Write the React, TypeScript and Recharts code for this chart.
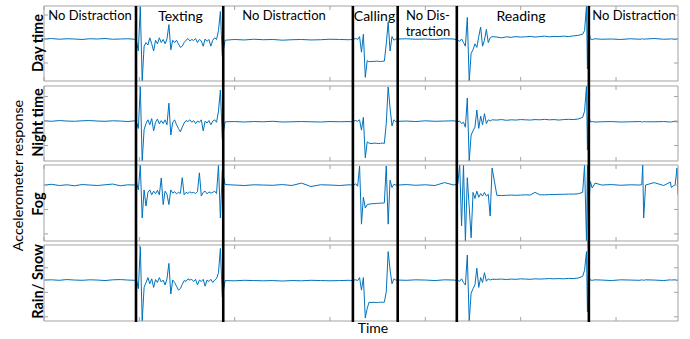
import { Line, LineChart, ReferenceLine, XAxis, YAxis } from "recharts";

// time grid shared by the four recordings (one line per segment)
const time = [
  0, 8, 16, 24, 32, 40, 48, 56, 64, 72, 80, 88, 95,
  97, 99, 101, 103, 105, 107, 109, 111, 113, 115, 117, 119, 121, 123, 125, 127, 129, 131, 133, 135,
  137, 139, 141, 143, 145, 147, 149, 151, 153, 155, 157, 159, 161, 163, 165, 167, 169, 171, 173, 175,
  177, 179, 181, 183, 185, 187,
  190, 200, 210, 220, 230, 240, 250, 260, 270, 280, 290, 300, 310, 320, 323,
  325, 327, 329, 331, 333, 335, 337, 339, 341, 343, 345, 347, 349, 351, 353, 355, 357, 359, 361, 363,
  365, 367, 369,
  372, 380, 390, 400, 410, 420, 430,
  434, 436, 438, 440, 442, 444, 446, 448, 450, 452, 454, 456, 458, 460, 462, 464, 466, 468, 470,
  475, 480, 485, 490, 495, 500, 505, 510, 515, 520, 525, 530, 535, 540, 545, 550, 555, 560, 565,
  567, 569, 570, 571,
  573, 575, 578, 585, 595, 605, 615, 625, 627, 628, 629, 631, 640, 650, 657, 658, 662, 664, 665,
];

const dayTime = [
  0, 0.02, -0.01, 0.01, 0, -0.02, 0.01, 0, 0.02, -0.01, 0, 0.01, -0.01,
  -0.1, -0.5, 1.35, -1.75, -0.3, -0.15, -0.25, 0.05, -0.2, -0.5, -0.05, -0.2, 0.05, -0.15, -0.02, -0.2, 0, 0.6, -0.45, -0.05,
  -0.15, -0.05, -0.2, -0.35, -0.3, -0.15, -0.05, 0.02, -0.08, -0.02, -0.06, 0.02, -0.15, -0.02, -0.08, -0.3, 0, -0.1, -0.02, -0.3,
  -0.05, 0.05, -0.02, 0.35, 1.15, -0.7,
  -0.05, -0.02, -0.04, -0.01, -0.03, -0.02, -0.05, -0.03, -0.02, -0.04, -0.03, -0.01, -0.02, -0.03, -0.02,
  0, 0.02, -0.02, 0.1, -0.55, 0.2, -1.6, -0.9, -0.95, -0.93, -0.94, -0.93, -0.92, -0.93, -0.94, -0.93, -0.92, -0.2, 0.7, -0.5,
  0.1, -0.05, 0,
  0, 0.01, -0.01, 0, -0.02, 0.01, 0,
  -0.05, -0.1, 0, -0.15, -0.3, 0.9, -1.75, -0.6, -0.45, -0.2, -0.35, 0.1, 0.5, -0.3, -0.05, 0.4, -0.15, 0.05, 0.1,
  0.08, 0.05, 0.09, 0.07, 0.1, 0.08, 0.09, 0.11, 0.08, 0.1, 0.12, 0.09, 0.11, 0.1, 0.12, 0.1, 0.13, 0.15, 0.2,
  0.35, 1.37, -1.25, 0.5,
  0, -0.02, 0.01, -0.01, 0, -0.02, 0.01, -0.01, 0, 0.01, -0.01, 0, 0.02, -0.01, 0, 0.01, -0.02, 0, 0.01,
];

const nightTime = [
  0.01, -0.01, 0.02, 0, -0.01, 0.01, 0.02, 0, -0.01, 0.01, 0, -0.02, 0.01,
  -0.05, -0.3, 1.4, -1.63, -0.35, -0.1, 0.05, -0.15, 0.1, -0.4, -0.05, 0.08, -0.12, 0.02, -0.1, 0.05, -0.15, 0.73, -0.57, -0.05,
  0.05, -0.15, -0.3, -0.44, -0.25, -0.08, 0.02, -0.02, 0.05, -0.05, 0.02, -0.1, 0, -0.05, 0.05, -0.4, 0, -0.08, 0.02, -0.15,
  0, 0.05, -0.05, 0.4, 1.27, -0.7,
  -0.03, -0.02, -0.04, -0.02, -0.03, -0.01, -0.04, -0.03, -0.02, -0.03, -0.04, -0.02, -0.03, -0.02, -0.03,
  0, 0.02, -0.01, 0.05, -0.37, 0.15, -1.5, -0.85, -0.9, -0.92, -0.91, -0.9, -0.91, -0.92, -0.91, -0.9, -0.91, -0.1, 1.39, 0.53,
  -0.2, 0.05, -0.02,
  -0.01, 0, -0.02, 0.01, -0.01, 0, 0.01,
  -0.03, 0, -0.1, -0.05, -0.25, 0.94, -1.63, -0.57, -0.4, -0.25, 0.45, -0.3, 0.2, -0.15, 0.3, -0.1, 0.05, 0, 0.05,
  0.04, 0.06, 0.03, 0.05, 0.04, 0.06, 0.05, 0.04, 0.06, 0.05, 0.07, 0.05, 0.06, 0.04, 0.06, 0.07, 0.06, 0.08, 0.15,
  0.4, 1.43, -1.18, 0.3,
  -0.03, -0.02, -0.04, -0.03, -0.02, -0.04, -0.03, -0.02, -0.03, -0.04, -0.02, -0.03, -0.03, -0.02, -0.04, -0.03, -0.02, -0.03, -0.03,
];

const fog = [
  0, 0.03, -0.02, 0.01, -0.03, 0.02, 0, -0.02, 0.01, 0.04, -0.03, 0.01, 0,
  0.1, -0.2, 0.82, -1.35, -0.2, -0.86, -0.3, -0.2, -0.4, -0.25, -0.35, -0.22, -0.4, 0.29, -0.8, -0.25, -0.38, -0.8, -0.2, -0.33,
  -0.27, -0.36, -0.3, -0.34, 0.3, -0.4, -0.3, -0.34, -0.28, -0.32, -0.3, -0.35, -0.27, 0.5, -0.45, -0.3, -0.25, -0.36, -0.28, -0.33,
  -0.3, -0.25, -0.35, 0.82, -1.35, 0.6,
  0.02, 0, -0.02, 0.01, 0, -0.01, 0.02, -0.02, 0.08, -0.06, 0.01, 0, -0.02, 0.01, 0,
  0, 0.05, -0.05, 0.78, -1.6, -0.5, -0.94, -0.8, -0.78, -0.77, -0.76, -0.76, -0.75, -0.75, -0.74, -0.74, -0.73, 0.78, -1.6, 0.2,
  -0.1, 0.03, 0,
  0, 0.02, -0.01, 0.01, -0.02, 0.1, 0,
  0.05, 0.82, -1.67, 0.82, -2.29, 0.3, -0.9, -2.16, -0.3, -0.55, -0.25, -0.5, -0.35, -0.45, -0.3, -0.45, -0.38, -1.27, 0.7,
  -0.42, -0.43, -0.42, -0.41, -0.42, -0.41, -0.4, -0.41, -0.3, -0.4, -0.4, -0.39, -0.39, -0.38, -0.38, -0.37, -0.37, -0.36, -0.3,
  0.82, -2.29, 0.82, -1.2,
  0.15, -0.12, 0.08, 0, 0.02, -0.01, 0.01, 0, 0.02, 0.82, -1.35, 0, 0.1, -0.02, 0.12, -0.1, 0.02, 0.7, -0.4,
];

const rainSnow = [
  0, 0.01, -0.01, 0.02, 0, -0.01, 0.01, 0, -0.02, 0.01, 0.02, 0, -0.01,
  0, -0.35, 1.36, -1.67, -0.3, -0.1, 0.1, -0.15, 0.05, -0.3, 0.02, -0.1, 0.1, -0.08, 0, -0.2, 0.05, 0.68, -0.57, 0,
  -0.1, -0.25, -0.41, -0.35, -0.18, -0.02, -0.05, 0.05, 0, 0.03, -0.06, 0.03, -0.2, 0, -0.06, 0.03, -0.25, 0, -0.06, 0.03,
  -0.1, 0, 0.06, 0.3, 1.29, -0.68,
  -0.02, -0.03, -0.01, -0.02, -0.03, -0.02, -0.04, -0.02, -0.03, -0.01, -0.02, -0.03, -0.02, -0.01, -0.02,
  0, 0.01, -0.02, 0.1, -0.41, 0.1, -1.55, -1.16, -0.9, -0.92, -0.91, -0.91, -0.92, -0.91, -0.9, -0.91, -0.9, -0.48, 1.16, 0.41,
  -0.15, 0.05, 0,
  0, -0.01, 0.01, 0, -0.02, 0.01, 0,
  -0.02, -0.05, 0.05, -0.1, -0.2, 1.02, -1.67, -0.54, -0.35, -0.2, 0.48, -0.3, 0.1, -0.1, 0.3, -0.05, 0.05, 0, 0.03,
  0.03, 0.04, 0.02, 0.04, 0.03, 0.05, 0.04, 0.03, 0.05, 0.04, 0.05, 0.06, 0.05, 0.06, 0.05, 0.07, 0.06, 0.08, 0.15,
  0.4, 1.16, -1.29, 0.2,
  0, -0.01, 0.01, 0, -0.02, 0.01, 0, -0.01, 0.01, 0, -0.01, 0.01, 0, -0.02, 0.01, 0, 0.01, -0.01, 0,
];

const segmentBounds = [96.5, 188, 324, 371, 433, 571.5];
const timeTicks = [0, 100, 200, 300, 400, 500, 600];

const BOX = "#a3a3a3";
const SIGNAL = "#0072bd";
const FONT = "Lato, 'Open Sans', sans-serif";

const panels = [
  { name: "Day time", values: dayTime, domain: [-1.75, 1.375], ticks: [-1, 0, 1], top: 6, height: 75, labelY: 43 },
  { name: "Night time", values: nightTime, domain: [-1.63, 1.43], ticks: [-1, 0, 1], top: 86, height: 75, labelY: 122.5 },
  { name: "Fog", values: fog, domain: [-2.29, 0.82], ticks: [-2, -1, 0], top: 165, height: 76, labelY: 204 },
  { name: "Rain/ Snow", values: rainSnow, domain: [-1.67, 1.43], ticks: [-1.5, -0.5, 0.5], top: 245, height: 76, labelY: 281.5 },
];

const blank = () => "";

function Panel({ p }: { p: (typeof panels)[number] }) {
  const rows = time.map((t, i) => ({ t, v: p.values[i] }));
  return (
    <div style={{ position: "absolute", left: 0, top: p.top - 1 }}>
      <LineChart width={690} height={p.height + 2} data={rows} margin={{ top: 1, right: 12, bottom: 1, left: 44 }}>
        <XAxis xAxisId="b" dataKey="t" type="number" domain={[0, 665]} ticks={timeTicks} orientation="bottom"
          height={1} mirror tickSize={4} tickFormatter={blank} stroke={BOX} allowDataOverflow />
        <XAxis xAxisId="t" dataKey="t" type="number" domain={[0, 665]} ticks={timeTicks} orientation="top"
          height={1} mirror tickSize={4} tickFormatter={blank} stroke={BOX} allowDataOverflow />
        <YAxis yAxisId="l" type="number" domain={p.domain} ticks={p.ticks} width={1} mirror tickSize={4}
          tickFormatter={blank} stroke={BOX} allowDataOverflow />
        <YAxis yAxisId="r" orientation="right" type="number" domain={p.domain} ticks={p.ticks} width={1} mirror
          tickSize={4} tickFormatter={blank} stroke={BOX} allowDataOverflow />
        <Line xAxisId="b" yAxisId="l" type="linear" dataKey="v" stroke={SIGNAL} strokeWidth={1} dot={false}
          isAnimationActive={false} />
      </LineChart>
    </div>
  );
}

export default function App() {
  const boundRows = segmentBounds.map((t) => ({ t, v: 0.5 }));
  return (
    <div style={{ position: "absolute", left: 0, top: 0, width: 690, height: 339, background: "#fff" }}>
      {panels.map((p) => (
        <Panel key={p.name} p={p} />
      ))}
      <div style={{ position: "absolute", left: 0, top: 0 }}>
        <LineChart width={690} height={339} data={boundRows} margin={{ top: 6, right: 12, bottom: 17, left: 44 }}>
          <XAxis dataKey="t" type="number" domain={[0, 665]} hide />
          <YAxis type="number" domain={[0, 1]} hide />
          <Line dataKey="v" stroke="none" dot={false} isAnimationActive={false} />
          {segmentBounds.map((b) => (
            <ReferenceLine key={b} x={b} stroke="#000" strokeWidth={2.6} />
          ))}
        </LineChart>
      </div>
      <svg width={690} height={339} style={{ position: "absolute", left: 0, top: 0 }} fontFamily={FONT} fill="#000">
        <g textAnchor="middle">
          <text x={90} y={19.5} fontSize={13}>No Distraction</text>
          <text x={180.5} y={20.5} fontSize={14}>Texting</text>
          <text x={284} y={19.5} fontSize={13}>No Distraction</text>
          <text x={374.5} y={20.5} fontSize={14}>Calling</text>
          <text x={428} y={19.5} fontSize={13}>No Dis-</text>
          <text x={428} y={35.5} fontSize={13}>traction</text>
          <text x={521} y={20.5} fontSize={14}>Reading</text>
          <text x={634} y={19.5} fontSize={13}>No Distraction</text>
          {panels.map((p) => (
            <text key={p.name} transform={`translate(42.5,${p.labelY}) rotate(-90)`} fontSize={14.5} fontWeight="bold">
              {p.name}
            </text>
          ))}
          <text transform="translate(22.5,175.5) rotate(-90)" fontSize={14.3}>Accelerometer response</text>
          <text x={373} y={333} fontSize={14}>Time</text>
        </g>
      </svg>
    </div>
  );
}
